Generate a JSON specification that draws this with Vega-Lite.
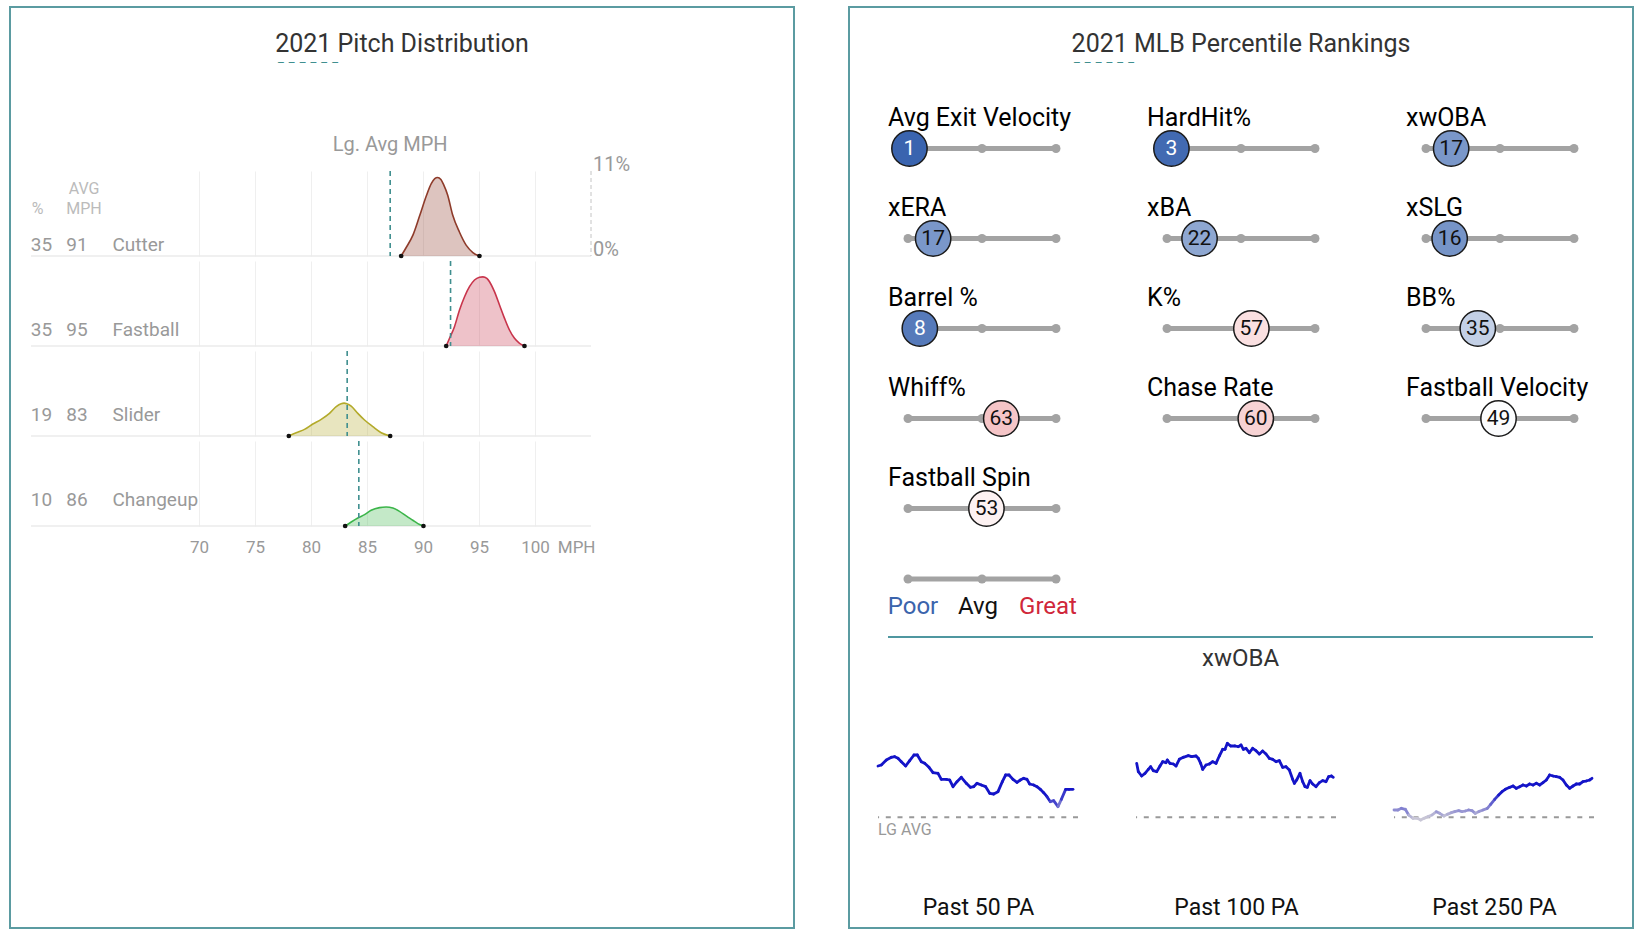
{
  "$schema": "https://vega.github.io/schema/vega-lite/v6.json",
  "background": "white",
  "padding": {"left": 9, "top": 6, "right": 0, "bottom": 0},
  "config": {"view": {"stroke": null}, "font": "Roboto"},
  "datasets": {
    "ridge": [
      {"pitch": "Cutter", "pct": 35, "avg": 91, "lgavg": 87.07},
      {"pitch": "Fastball", "pct": 35, "avg": 95, "lgavg": 92.46},
      {"pitch": "Slider", "pct": 19, "avg": 83, "lgavg": 83.23},
      {"pitch": "Changeup", "pct": 10, "avg": 86, "lgavg": 84.27},
      {"pitch": "Cutter", "mph": 88.05, "d": 0},
      {"pitch": "Cutter", "mph": 88.5, "d": 1.1},
      {"pitch": "Cutter", "mph": 89.1, "d": 2.7},
      {"pitch": "Cutter", "mph": 89.7, "d": 5.2},
      {"pitch": "Cutter", "mph": 90.3, "d": 7.8},
      {"pitch": "Cutter", "mph": 90.75, "d": 9.4},
      {"pitch": "Cutter", "mph": 91.05, "d": 10.0},
      {"pitch": "Cutter", "mph": 91.3, "d": 10.15},
      {"pitch": "Cutter", "mph": 91.6, "d": 9.9},
      {"pitch": "Cutter", "mph": 91.85, "d": 9.2},
      {"pitch": "Cutter", "mph": 92.2, "d": 7.9},
      {"pitch": "Cutter", "mph": 92.65, "d": 5.3},
      {"pitch": "Cutter", "mph": 93.25, "d": 3.1},
      {"pitch": "Cutter", "mph": 93.85, "d": 1.4},
      {"pitch": "Cutter", "mph": 94.45, "d": 0.45},
      {"pitch": "Cutter", "mph": 95.04, "d": 0},
      {"pitch": "Fastball", "mph": 92.07, "d": 0},
      {"pitch": "Fastball", "mph": 92.37, "d": 1.0},
      {"pitch": "Fastball", "mph": 92.81, "d": 2.5},
      {"pitch": "Fastball", "mph": 93.26, "d": 4.66},
      {"pitch": "Fastball", "mph": 93.71, "d": 6.38},
      {"pitch": "Fastball", "mph": 94.15, "d": 7.68},
      {"pitch": "Fastball", "mph": 94.6, "d": 8.54},
      {"pitch": "Fastball", "mph": 95.04, "d": 8.89},
      {"pitch": "Fastball", "mph": 95.35, "d": 8.95},
      {"pitch": "Fastball", "mph": 95.7, "d": 8.75},
      {"pitch": "Fastball", "mph": 95.94, "d": 8.32},
      {"pitch": "Fastball", "mph": 96.38, "d": 7.03},
      {"pitch": "Fastball", "mph": 96.83, "d": 5.31},
      {"pitch": "Fastball", "mph": 97.28, "d": 3.58},
      {"pitch": "Fastball", "mph": 97.72, "d": 2.07},
      {"pitch": "Fastball", "mph": 98.17, "d": 0.99},
      {"pitch": "Fastball", "mph": 98.62, "d": 0.35},
      {"pitch": "Fastball", "mph": 99.06, "d": 0},
      {"pitch": "Slider", "mph": 78.02, "d": 0},
      {"pitch": "Slider", "mph": 78.68, "d": 0.43},
      {"pitch": "Slider", "mph": 79.42, "d": 0.86},
      {"pitch": "Slider", "mph": 80.16, "d": 1.55},
      {"pitch": "Slider", "mph": 80.91, "d": 2.16},
      {"pitch": "Slider", "mph": 81.65, "d": 2.93},
      {"pitch": "Slider", "mph": 82.25, "d": 3.8},
      {"pitch": "Slider", "mph": 82.69, "d": 4.18},
      {"pitch": "Slider", "mph": 82.95, "d": 4.25},
      {"pitch": "Slider", "mph": 83.2, "d": 4.18},
      {"pitch": "Slider", "mph": 83.59, "d": 3.88},
      {"pitch": "Slider", "mph": 84.18, "d": 2.93},
      {"pitch": "Slider", "mph": 84.78, "d": 2.07},
      {"pitch": "Slider", "mph": 85.52, "d": 1.21},
      {"pitch": "Slider", "mph": 86.27, "d": 0.43},
      {"pitch": "Slider", "mph": 87.07, "d": 0},
      {"pitch": "Changeup", "mph": 83.05, "d": 0},
      {"pitch": "Changeup", "mph": 83.59, "d": 0.52},
      {"pitch": "Changeup", "mph": 84.18, "d": 1.04},
      {"pitch": "Changeup", "mph": 84.78, "d": 1.47},
      {"pitch": "Changeup", "mph": 85.37, "d": 2.03},
      {"pitch": "Changeup", "mph": 86.12, "d": 2.38},
      {"pitch": "Changeup", "mph": 86.71, "d": 2.46},
      {"pitch": "Changeup", "mph": 87.31, "d": 2.33},
      {"pitch": "Changeup", "mph": 87.9, "d": 1.9},
      {"pitch": "Changeup", "mph": 88.5, "d": 1.3},
      {"pitch": "Changeup", "mph": 89.09, "d": 0.74},
      {"pitch": "Changeup", "mph": 89.54, "d": 0.31},
      {"pitch": "Changeup", "mph": 90.04, "d": 0}
    ],
    "metrics": [
      {"metric": "Avg Exit Velocity", "pct": 1},
      {"metric": "HardHit%", "pct": 3},
      {"metric": "xwOBA", "pct": 17},
      {"metric": "xERA", "pct": 17},
      {"metric": "xBA", "pct": 22},
      {"metric": "xSLG", "pct": 16},
      {"metric": "Barrel %", "pct": 8},
      {"metric": "K%", "pct": 57},
      {"metric": "BB%", "pct": 35},
      {"metric": "Whiff%", "pct": 63},
      {"metric": "Chase Rate", "pct": 60},
      {"metric": "Fastball Velocity", "pct": 49},
      {"metric": "Fastball Spin", "pct": 53}
    ],
    "s50": [
      {"n": 25, "v": 0.395}, {"n": 35, "v": 0.3965}, {"n": 50, "v": 0.404}, {"n": 65, "v": 0.408}, {"n": 75, "v": 0.409},
      {"n": 85, "v": 0.4065}, {"n": 95, "v": 0.4015}, {"n": 108, "v": 0.395}, {"n": 120, "v": 0.403}, {"n": 133, "v": 0.4115},
      {"n": 143, "v": 0.4115}, {"n": 155, "v": 0.4015}, {"n": 165, "v": 0.399}, {"n": 178, "v": 0.393}, {"n": 190, "v": 0.385},
      {"n": 205, "v": 0.384}, {"n": 215, "v": 0.375}, {"n": 230, "v": 0.375}, {"n": 240, "v": 0.374}, {"n": 250, "v": 0.364},
      {"n": 262, "v": 0.3715}, {"n": 275, "v": 0.378}, {"n": 290, "v": 0.369}, {"n": 302, "v": 0.363}, {"n": 312, "v": 0.364},
      {"n": 322, "v": 0.369}, {"n": 335, "v": 0.3665}, {"n": 348, "v": 0.364}, {"n": 360, "v": 0.354}, {"n": 372, "v": 0.353},
      {"n": 385, "v": 0.3565}, {"n": 398, "v": 0.3715}, {"n": 408, "v": 0.3815}, {"n": 418, "v": 0.3815}, {"n": 430, "v": 0.375},
      {"n": 442, "v": 0.3705}, {"n": 452, "v": 0.374}, {"n": 462, "v": 0.3765}, {"n": 472, "v": 0.375}, {"n": 480, "v": 0.368},
      {"n": 492, "v": 0.3665}, {"n": 502, "v": 0.364}, {"n": 512, "v": 0.36}, {"n": 522, "v": 0.355}, {"n": 532, "v": 0.349},
      {"n": 542, "v": 0.3415}, {"n": 552, "v": 0.343}, {"n": 565, "v": 0.334}, {"n": 575, "v": 0.345}, {"n": 588, "v": 0.36},
      {"n": 598, "v": 0.36}, {"n": 610, "v": 0.36}
    ],
    "s100": [
      {"n": 20, "v": 0.399}, {"n": 25, "v": 0.3865}, {"n": 35, "v": 0.38}, {"n": 45, "v": 0.384}, {"n": 55, "v": 0.39},
      {"n": 62, "v": 0.394}, {"n": 70, "v": 0.388}, {"n": 80, "v": 0.3865}, {"n": 90, "v": 0.395}, {"n": 98, "v": 0.4015},
      {"n": 108, "v": 0.4}, {"n": 112, "v": 0.404}, {"n": 120, "v": 0.399}, {"n": 130, "v": 0.398}, {"n": 138, "v": 0.395},
      {"n": 148, "v": 0.405}, {"n": 160, "v": 0.408}, {"n": 175, "v": 0.4105}, {"n": 185, "v": 0.409}, {"n": 198, "v": 0.41},
      {"n": 205, "v": 0.4065}, {"n": 212, "v": 0.399}, {"n": 218, "v": 0.39}, {"n": 228, "v": 0.3965}, {"n": 238, "v": 0.398},
      {"n": 248, "v": 0.4015}, {"n": 258, "v": 0.399}, {"n": 268, "v": 0.41}, {"n": 278, "v": 0.42}, {"n": 285, "v": 0.42},
      {"n": 292, "v": 0.429}, {"n": 302, "v": 0.425}, {"n": 315, "v": 0.425}, {"n": 325, "v": 0.424}, {"n": 333, "v": 0.4265},
      {"n": 340, "v": 0.42}, {"n": 348, "v": 0.4215}, {"n": 358, "v": 0.415}, {"n": 368, "v": 0.4215}, {"n": 378, "v": 0.418},
      {"n": 388, "v": 0.413}, {"n": 398, "v": 0.4175}, {"n": 408, "v": 0.413}, {"n": 418, "v": 0.4065}, {"n": 428, "v": 0.405},
      {"n": 438, "v": 0.4015}, {"n": 448, "v": 0.403}, {"n": 458, "v": 0.393}, {"n": 468, "v": 0.394}, {"n": 478, "v": 0.389},
      {"n": 488, "v": 0.375}, {"n": 493, "v": 0.369}, {"n": 500, "v": 0.374}, {"n": 510, "v": 0.384}, {"n": 518, "v": 0.3715},
      {"n": 525, "v": 0.364}, {"n": 532, "v": 0.363}, {"n": 540, "v": 0.373}, {"n": 548, "v": 0.368}, {"n": 558, "v": 0.364},
      {"n": 568, "v": 0.37}, {"n": 578, "v": 0.373}, {"n": 588, "v": 0.3715}, {"n": 596, "v": 0.379}, {"n": 604, "v": 0.38},
      {"n": 610, "v": 0.378}
    ],
    "s250": [
      {"n": 28, "v": 0.329}, {"n": 40, "v": 0.329}, {"n": 50, "v": 0.3315}, {"n": 62, "v": 0.33}, {"n": 72, "v": 0.3215},
      {"n": 85, "v": 0.3165}, {"n": 98, "v": 0.3165}, {"n": 108, "v": 0.314}, {"n": 118, "v": 0.3165}, {"n": 130, "v": 0.319},
      {"n": 142, "v": 0.3215}, {"n": 155, "v": 0.3265}, {"n": 165, "v": 0.324}, {"n": 178, "v": 0.32}, {"n": 188, "v": 0.3225},
      {"n": 200, "v": 0.325}, {"n": 210, "v": 0.3265}, {"n": 222, "v": 0.328}, {"n": 232, "v": 0.3265}, {"n": 242, "v": 0.3275},
      {"n": 252, "v": 0.329}, {"n": 262, "v": 0.328}, {"n": 272, "v": 0.324}, {"n": 282, "v": 0.3265}, {"n": 295, "v": 0.329},
      {"n": 308, "v": 0.3315}, {"n": 318, "v": 0.3375}, {"n": 330, "v": 0.345}, {"n": 342, "v": 0.3515}, {"n": 352, "v": 0.3565},
      {"n": 362, "v": 0.36}, {"n": 375, "v": 0.363}, {"n": 385, "v": 0.365}, {"n": 395, "v": 0.3615}, {"n": 405, "v": 0.364},
      {"n": 415, "v": 0.3665}, {"n": 425, "v": 0.365}, {"n": 435, "v": 0.368}, {"n": 445, "v": 0.3665}, {"n": 455, "v": 0.369},
      {"n": 465, "v": 0.3665}, {"n": 475, "v": 0.37}, {"n": 485, "v": 0.374}, {"n": 495, "v": 0.3815}, {"n": 505, "v": 0.38},
      {"n": 515, "v": 0.379}, {"n": 525, "v": 0.378}, {"n": 535, "v": 0.374}, {"n": 545, "v": 0.3665}, {"n": 555, "v": 0.3615},
      {"n": 565, "v": 0.365}, {"n": 575, "v": 0.368}, {"n": 585, "v": 0.368}, {"n": 595, "v": 0.3715}, {"n": 605, "v": 0.3725},
      {"n": 615, "v": 0.374}, {"n": 622, "v": 0.3765}
    ]
  },
  "bounds": "flush",
  "spacing": 0,
  "vconcat": [
    {
      "bounds": "flush",
      "spacing": 55,
      "hconcat": [
        {"width": 784, "height": 921, "view": {"stroke": "#5b9ba1", "strokeWidth": 2}, "data": {"values": []}, "mark": "point"},
        {"width": 784, "height": 921, "view": {"stroke": "#5b9ba1", "strokeWidth": 2}, "data": {"values": []}, "mark": "point"}
      ]
    },
    {
      "bounds": "flush",
      "spacing": 0,
      "vconcat": [
        {
          "width": 784, "height": 74, "data": {"values": [{}]},
          "layer": [
            {"mark": {"type": "text", "text": "2021 Pitch Distribution", "fontSize": 25, "color": "#333333", "baseline": "middle"}, "encoding": {}},
            {"mark": {"type": "text", "text": "– – – – – –", "fontSize": 12, "color": "#3f8f8f", "baseline": "middle", "dx": -94, "dy": 19}, "encoding": {}}
          ]
        }
      ]
    },
    {
      "bounds": "flush", "spacing": 0,
      "hconcat": [
        {"width": 839, "height": 1, "data": {"values": []}, "mark": "point"},
        {"bounds": "flush", "spacing": 0, "vconcat": [
          {
            "width": 784, "height": 74, "data": {"values": [{}]},
            "layer": [
              {"mark": {"type": "text", "text": "2021 MLB Percentile Rankings", "fontSize": 25, "color": "#333333", "baseline": "middle"}, "encoding": {}},
              {"mark": {"type": "text", "text": "– – – – – –", "fontSize": 12, "color": "#3f8f8f", "baseline": "middle", "dx": -137, "dy": 19}, "encoding": {}}
            ]
          }
        ]}
      ]
    },
    {
      "bounds": "flush", "spacing": 0,
      "hconcat": [
        {"width": 21, "height": 1, "data": {"values": []}, "mark": "point"},
        {"bounds": "flush", "spacing": 0, "vconcat": [
          {"width": 1, "height": 118, "data": {"values": []}, "mark": "point"},
          {
            "width": 560, "height": 46,
            "data": {"name": "ridge"},
            "transform": [{"filter": "isValid(datum.lgavg) && datum.pitch === 'Cutter'"}],
            "layer": [
              {
                "mark": {"type": "text", "text": "Lg. Avg MPH", "fontSize": 20, "color": "#999999", "baseline": "middle", "dy": -3},
                "encoding": {"x": {"field": "lgavg", "type": "quantitative", "axis": null, "scale": {"domain": [55, 105], "nice": false, "zero": false}}}
              },
              {
                "mark": {"type": "text", "text": "11%", "fontSize": 20, "color": "#999999", "align": "left", "baseline": "alphabetic", "dx": 2, "dy": 23},
                "encoding": {"x": {"datum": 105, "type": "quantitative", "axis": null}}
              }
            ]
          }
        ]}
      ]
    },
    {
      "bounds": "flush", "spacing": 0,
      "hconcat": [
        {"width": 21, "height": 1, "data": {"values": []}, "mark": "point"},
        {"bounds": "flush", "spacing": 0, "vconcat": [
          {"width": 1, "height": 164, "data": {"values": []}, "mark": "point"},
          {
            "width": 142, "height": 340,
            "data": {"name": "ridge"},
            "transform": [{"filter": "isValid(datum.pct)"}],
            "encoding": {
              "y": {"field": "pitch", "type": "nominal", "bandPosition": 1, "axis": null,
                    "scale": {"type": "band", "domain": ["Cutter", "Fastball", "Slider", "Changeup"], "paddingInner": 0, "paddingOuter": 0}}
            },
            "layer": [
              {
                "mark": {"type": "text", "align": "center", "baseline": "alphabetic", "dy": -5, "fontSize": 19, "color": "#999999"},
                "encoding": {
                  "x": {"datum": "pct", "type": "nominal", "axis": null,
                        "scale": {"type": "point", "domain": ["pct", "mph", "name"], "padding": 1, "align": 0.1479}},
                  "text": {"field": "pct"}
                }
              },
              {
                "mark": {"type": "text", "align": "center", "baseline": "alphabetic", "dy": -5, "fontSize": 19, "color": "#999999"},
                "encoding": {"x": {"datum": "mph", "type": "nominal", "axis": null}, "text": {"field": "avg"}}
              },
              {
                "mark": {"type": "text", "align": "left", "baseline": "alphabetic", "dy": -5, "fontSize": 19, "color": "#999999"},
                "encoding": {"x": {"datum": "name", "type": "nominal", "axis": null}, "text": {"field": "pitch"}}
              },
              {
                "transform": [{"filter": "datum.pitch === 'Cutter'"}],
                "mark": {"type": "text", "text": "%", "align": "center", "baseline": "alphabetic", "dx": -4, "dy": -42, "fontSize": 16, "color": "#bbbbbb"},
                "encoding": {"x": {"datum": "pct", "type": "nominal", "axis": null}}
              },
              {
                "transform": [{"filter": "datum.pitch === 'Cutter'"}],
                "mark": {"type": "text", "text": ["AVG", "MPH"], "lineHeight": 20, "align": "center", "baseline": "alphabetic", "dx": 7, "dy": -62, "fontSize": 16, "color": "#bbbbbb"},
                "encoding": {"x": {"datum": "mph", "type": "nominal", "axis": null}}
              }
            ]
          }
        ]}
      ]
    },
    {
      "bounds": "flush", "spacing": 0,
      "hconcat": [
        {"width": 21, "height": 1, "data": {"values": []}, "mark": "point"},
        {"bounds": "flush", "spacing": 0, "vconcat": [
          {"width": 1, "height": 164, "data": {"values": []}, "mark": "point"},
          {
            "data": {"name": "ridge"},
            "facet": {"row": {"field": "pitch", "type": "nominal", "sort": ["Cutter", "Fastball", "Slider", "Changeup"], "header": null}},
            "spacing": 0,
            "spec": {
              "width": 560, "height": 85,
              "layer": [
                {
                  "transform": [{"filter": "isValid(datum.lgavg)"}],
                  "mark": {"type": "rule", "color": "#ebebeb", "strokeWidth": 1.5},
                  "encoding": {"y": {"datum": 0, "type": "quantitative", "axis": null, "scale": {"domain": [0, 11], "nice": false, "zero": false}}}
                },
                {
                  "transform": [{"filter": "isValid(datum.d)"}],
                  "mark": {"type": "area", "interpolate": "monotone", "fillOpacity": 0.3},
                  "encoding": {
                    "x": {"field": "mph", "type": "quantitative", "scale": {"domain": [55, 105], "nice": false, "zero": false},
                          "axis": {"values": [70, 75, 80, 85, 90, 95, 100], "grid": true, "gridColor": "#efefef", "gridWidth": 1,
                                   "domain": false, "ticks": false, "tickSize": 0, "labelColor": "#999999", "labelFontSize": 17,
                                   "labelPadding": 9, "title": "MPH", "titleColor": "#999999", "titleFontSize": 17,
                                   "titleFontWeight": "normal", "titleX": 564, "titleY": 9, "titleAlign": "right", "titleBaseline": "top"}},
                    "y": {"field": "d", "type": "quantitative", "axis": null},
                    "fill": {"field": "pitch", "type": "nominal", "legend": null,
                             "scale": {"domain": ["Cutter", "Fastball", "Slider", "Changeup"], "range": ["#8e3b2a", "#c8344b", "#b3aa2a", "#3cb54a"]}}
                  }
                },
                {
                  "transform": [{"filter": "isValid(datum.d)"}],
                  "mark": {"type": "line", "interpolate": "monotone", "strokeWidth": 1.6},
                  "encoding": {
                    "x": {"field": "mph", "type": "quantitative"},
                    "y": {"field": "d", "type": "quantitative", "axis": null},
                    "stroke": {"field": "pitch", "type": "nominal", "legend": null,
                               "scale": {"domain": ["Cutter", "Fastball", "Slider", "Changeup"], "range": ["#8e3b2a", "#c8344b", "#b3aa2a", "#3cb54a"]}}
                  }
                },
                {
                  "transform": [{"filter": "datum.d === 0"}],
                  "mark": {"type": "point", "filled": true, "color": "#111111", "size": 22, "opacity": 1},
                  "encoding": {
                    "x": {"field": "mph", "type": "quantitative"},
                    "y": {"field": "d", "type": "quantitative", "axis": null}
                  }
                },
                {
                  "transform": [{"filter": "isValid(datum.lgavg)"}],
                  "mark": {"type": "rule", "color": "#3f8f8f", "strokeWidth": 1.6, "strokeDash": [5, 4]},
                  "encoding": {"x": {"field": "lgavg", "type": "quantitative"}}
                },
                {
                  "transform": [{"filter": "isValid(datum.lgavg) && datum.pitch === 'Cutter'"}],
                  "mark": {"type": "rule", "color": "#c4c4c4", "strokeWidth": 1, "strokeDash": [4, 3]},
                  "encoding": {"x": {"datum": 105, "type": "quantitative"}}
                },
                {
                  "transform": [{"filter": "isValid(datum.lgavg) && datum.pitch === 'Cutter'"}],
                  "mark": {"type": "text", "text": "0%", "align": "left", "baseline": "alphabetic", "dx": 2, "fontSize": 20, "color": "#999999"},
                  "encoding": {"x": {"datum": 105, "type": "quantitative"}, "y": {"datum": 0, "type": "quantitative", "axis": null}}
                }
              ]
            }
          }
        ]}
      ]
    },
    {
      "bounds": "flush", "spacing": 0,
      "hconcat": [
        {"width": 878, "height": 1, "data": {"values": []}, "mark": "point"},
        {"bounds": "flush", "spacing": 0, "vconcat": [
          {"width": 1, "height": 97, "data": {"values": []}, "mark": "point"},
          {
            "data": {"name": "metrics"},
            "facet": {"field": "metric", "type": "nominal",
                      "header": {"labelExpr": "''", "labelFontSize": 1, "labelPadding": 0, "title": null},
                      "sort": ["Avg Exit Velocity", "HardHit%", "xwOBA", "xERA", "xBA", "xSLG", "Barrel %", "K%", "BB%", "Whiff%", "Chase Rate", "Fastball Velocity", "Fastball Spin"]},
            "columns": 3,
            "spacing": {"row": 0, "column": 70},
            "spec": {
              "width": 188, "height": 89,
              "layer": [
                {
                  "mark": {"type": "rule", "color": "#a3a3a3", "strokeWidth": 5},
                  "encoding": {"x": {"datum": 0, "type": "quantitative", "axis": null, "scale": {"domain": [-13.5, 113.5], "nice": false, "zero": false}}, "x2": {"datum": 100}}
                },
                {"mark": {"type": "point", "filled": true, "color": "#a3a3a3", "size": 80, "opacity": 1}, "encoding": {"x": {"datum": 0, "type": "quantitative", "axis": null}}},
                {"mark": {"type": "point", "filled": true, "color": "#a3a3a3", "size": 80, "opacity": 1}, "encoding": {"x": {"datum": 50, "type": "quantitative", "axis": null}}},
                {"mark": {"type": "point", "filled": true, "color": "#a3a3a3", "size": 80, "opacity": 1}, "encoding": {"x": {"datum": 100, "type": "quantitative", "axis": null}}},
                {
                  "mark": {"type": "point", "filled": true, "size": 1250, "stroke": "#1a1a1a", "strokeWidth": 1.5, "opacity": 1},
                  "encoding": {
                    "x": {"field": "pct", "type": "quantitative", "axis": null},
                    "fill": {"field": "pct", "type": "quantitative", "legend": null, "scale": {"domain": [0, 50, 100], "range": ["#3661ad", "#ffffff", "#d82129"], "interpolate": "rgb"}}
                  }
                },
                {
                  "mark": {"type": "text", "fontSize": 21, "baseline": "middle", "align": "center"},
                  "encoding": {
                    "x": {"field": "pct", "type": "quantitative", "axis": null},
                    "text": {"field": "pct"},
                    "color": {"condition": {"test": "datum.pct <= 10", "value": "#ffffff"}, "value": "#111111"}
                  }
                },
                {
                  "mark": {"type": "text", "fontSize": 25, "align": "left", "baseline": "middle", "dx": -20, "dy": -31, "color": "#000000"},
                  "encoding": {"x": {"datum": 0, "type": "quantitative", "axis": null}, "text": {"field": "metric"}}
                }
              ]
            }
          }
        ]}
      ]
    },
    {
      "bounds": "flush", "spacing": 0,
      "hconcat": [
        {"width": 878, "height": 1, "data": {"values": []}, "mark": "point"},
        {"bounds": "flush", "spacing": 0, "vconcat": [
          {"width": 1, "height": 547, "data": {"values": []}, "mark": "point"},
          {
            "width": 188, "height": 50,
            "data": {"values": [{}]},
            "layer": [
              {
                "mark": {"type": "rule", "color": "#a3a3a3", "strokeWidth": 5},
                "encoding": {"x": {"datum": 0, "type": "quantitative", "axis": null, "scale": {"domain": [-13.5, 113.5], "nice": false, "zero": false}}, "x2": {"datum": 100}}
              },
              {"mark": {"type": "point", "filled": true, "color": "#a3a3a3", "size": 80, "opacity": 1}, "encoding": {"x": {"datum": 0, "type": "quantitative", "axis": null}}},
              {"mark": {"type": "point", "filled": true, "color": "#a3a3a3", "size": 80, "opacity": 1}, "encoding": {"x": {"datum": 50, "type": "quantitative", "axis": null}}},
              {"mark": {"type": "point", "filled": true, "color": "#a3a3a3", "size": 80, "opacity": 1}, "encoding": {"x": {"datum": 100, "type": "quantitative", "axis": null}}},
              {"mark": {"type": "text", "text": "Poor", "fontSize": 24, "color": "#3b64ac", "baseline": "middle", "dx": 5, "dy": 28}, "encoding": {"x": {"datum": 0, "type": "quantitative", "axis": null}}},
              {"mark": {"type": "text", "text": "Avg", "fontSize": 24, "color": "#111111", "baseline": "middle", "dx": -4, "dy": 28}, "encoding": {"x": {"datum": 50, "type": "quantitative", "axis": null}}},
              {"mark": {"type": "text", "text": "Great", "fontSize": 24, "color": "#d0273a", "baseline": "middle", "dx": -8, "dy": 28}, "encoding": {"x": {"datum": 100, "type": "quantitative", "axis": null}}}
            ]
          }
        ]}
      ]
    },
    {
      "bounds": "flush", "spacing": 0,
      "hconcat": [
        {"width": 878, "height": 1, "data": {"values": []}, "mark": "point"},
        {"bounds": "flush", "spacing": 0, "vconcat": [
          {"width": 1, "height": 612, "data": {"values": []}, "mark": "point"},
          {
            "width": 705, "height": 18,
            "data": {"values": [{}]},
            "layer": [
              {
                "mark": {"type": "rule", "color": "#4f97a0", "strokeWidth": 2},
                "encoding": {"y": {"datum": 0, "type": "quantitative", "axis": null, "scale": {"domain": [0, 1]}}}
              },
              {
                "mark": {"type": "text", "text": "xwOBA", "fontSize": 24, "color": "#333333", "baseline": "middle", "dy": 22},
                "encoding": {"y": {"datum": 0, "type": "quantitative", "axis": null}}
              }
            ]
          }
        ]}
      ]
    },
    {
      "bounds": "flush", "spacing": 0,
      "hconcat": [
        {"width": 868, "height": 1, "data": {"values": []}, "mark": "point"},
        {"bounds": "flush", "spacing": 0, "vconcat": [
          {"width": 1, "height": 709, "data": {"values": []}, "mark": "point"},
          {
            "bounds": "flush",
            "spacing": 58,
            "hconcat": [
              {
                "width": 200, "height": 120,
                "layer": [
                  {
                    "data": {"values": [{"lg": 0.318}]},
                    "mark": {"type": "rule", "color": "#999999", "strokeWidth": 2, "strokeDash": [5, 6.7]},
                    "encoding": {"y": {"field": "lg", "type": "quantitative", "axis": null, "scale": {"domain": [0.29, 0.47], "nice": false, "zero": false}}}
                  },
                  {
                    "data": {"name": "s50"},
                    "transform": [
                      {"window": [{"op": "lead", "field": "n", "as": "n2"}, {"op": "lead", "field": "v", "as": "v2"}], "sort": [{"field": "n", "order": "ascending"}]},
                      {"filter": "datum.n2 != null"}
                    ],
                    "mark": {"type": "rule", "strokeWidth": 2.8, "strokeCap": "round"},
                    "encoding": {
                      "x": {"field": "n", "type": "quantitative", "scale": {"domain": [25, 625], "nice": false, "zero": false},
                            "axis": {"title": "Past 50 PA", "labels": false, "ticks": false, "domain": false, "grid": false, "titleFontSize": 23, "titleFontWeight": "normal", "titleColor": "#111111", "titlePadding": 60}},
                      "x2": {"field": "n2"},
                      "y": {"field": "v", "type": "quantitative", "axis": null},
                      "y2": {"field": "v2"},
                      "color": {"field": "v", "type": "quantitative", "legend": null, "scale": {"domain": [0.318, 0.352], "range": ["#c8c6d6", "#1414c8"], "clamp": true, "interpolate": "rgb"}}
                    }
                  },
                  {
                    "data": {"values": [{"lg": 0.318}]},
                    "mark": {"type": "text", "text": "LG AVG", "align": "left", "baseline": "middle", "dy": 13, "fontSize": 16, "color": "#999999"},
                    "encoding": {
                      "x": {"datum": 25, "type": "quantitative",
                            "axis": {"title": "Past 50 PA", "labels": false, "ticks": false, "domain": false, "grid": false, "titleFontSize": 23, "titleFontWeight": "normal", "titleColor": "#111111", "titlePadding": 60}},
                      "y": {"field": "lg", "type": "quantitative", "axis": null}
                    }
                  }
                ]
              },
              {
                "width": 200, "height": 120,
                "layer": [
                  {
                    "data": {"values": [{"lg": 0.318}]},
                    "mark": {"type": "rule", "color": "#999999", "strokeWidth": 2, "strokeDash": [5, 6.7]},
                    "encoding": {"y": {"field": "lg", "type": "quantitative", "axis": null, "scale": {"domain": [0.29, 0.47], "nice": false, "zero": false}}}
                  },
                  {
                    "data": {"name": "s100"},
                    "transform": [
                      {"window": [{"op": "lead", "field": "n", "as": "n2"}, {"op": "lead", "field": "v", "as": "v2"}], "sort": [{"field": "n", "order": "ascending"}]},
                      {"filter": "datum.n2 != null"}
                    ],
                    "mark": {"type": "rule", "strokeWidth": 2.8, "strokeCap": "round"},
                    "encoding": {
                      "x": {"field": "n", "type": "quantitative", "scale": {"domain": [18, 618], "nice": false, "zero": false},
                            "axis": {"title": "Past 100 PA", "labels": false, "ticks": false, "domain": false, "grid": false, "titleFontSize": 23, "titleFontWeight": "normal", "titleColor": "#111111", "titlePadding": 60}},
                      "x2": {"field": "n2"},
                      "y": {"field": "v", "type": "quantitative", "axis": null},
                      "y2": {"field": "v2"},
                      "color": {"field": "v", "type": "quantitative", "legend": null, "scale": {"domain": [0.318, 0.352], "range": ["#c8c6d6", "#1414c8"], "clamp": true, "interpolate": "rgb"}}
                    }
                  }
                ]
              },
              {
                "width": 200, "height": 120,
                "layer": [
                  {
                    "data": {"values": [{"lg": 0.318}]},
                    "mark": {"type": "rule", "color": "#999999", "strokeWidth": 2, "strokeDash": [5, 6.7]},
                    "encoding": {"y": {"field": "lg", "type": "quantitative", "axis": null, "scale": {"domain": [0.29, 0.47], "nice": false, "zero": false}}}
                  },
                  {
                    "data": {"name": "s250"},
                    "transform": [
                      {"window": [{"op": "lead", "field": "n", "as": "n2"}, {"op": "lead", "field": "v", "as": "v2"}], "sort": [{"field": "n", "order": "ascending"}]},
                      {"filter": "datum.n2 != null"}
                    ],
                    "mark": {"type": "rule", "strokeWidth": 2.8, "strokeCap": "round"},
                    "encoding": {
                      "x": {"field": "n", "type": "quantitative", "scale": {"domain": [28, 628], "nice": false, "zero": false},
                            "axis": {"title": "Past 250 PA", "labels": false, "ticks": false, "domain": false, "grid": false, "titleFontSize": 23, "titleFontWeight": "normal", "titleColor": "#111111", "titlePadding": 60}},
                      "x2": {"field": "n2"},
                      "y": {"field": "v", "type": "quantitative", "axis": null},
                      "y2": {"field": "v2"},
                      "color": {"field": "v", "type": "quantitative", "legend": null, "scale": {"domain": [0.318, 0.352], "range": ["#c8c6d6", "#1414c8"], "clamp": true, "interpolate": "rgb"}}
                    }
                  }
                ]
              }
            ]
          }
        ]}
      ]
    }
  ]
}
